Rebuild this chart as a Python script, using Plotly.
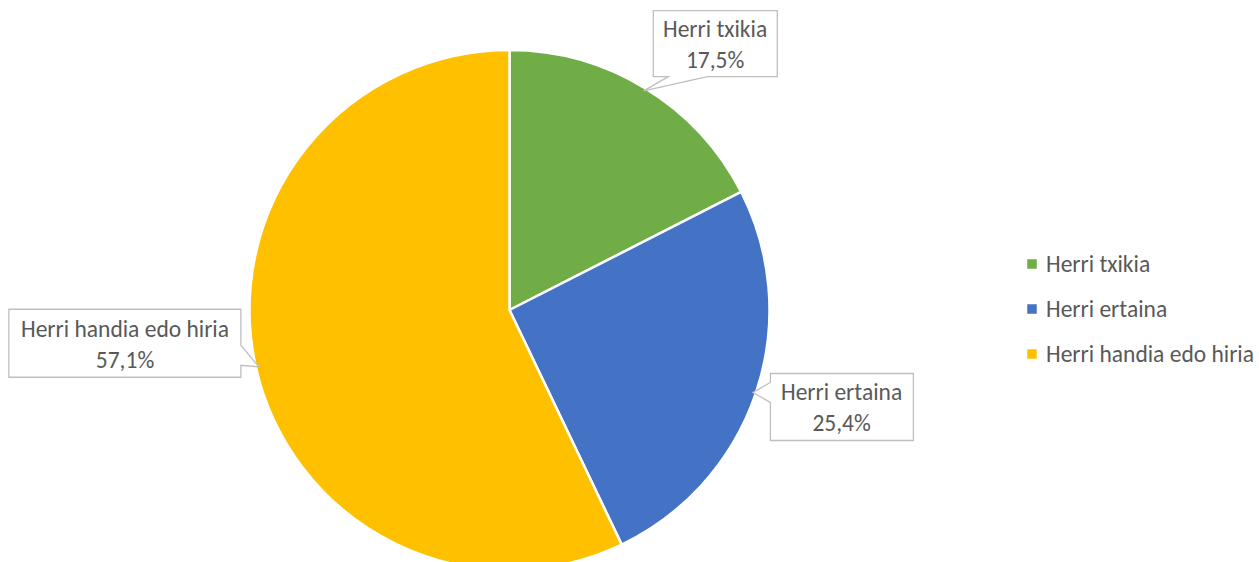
import math
import plotly.graph_objects as go

# Settlement size shares (%)
categories = ["Herri txikia", "Herri ertaina", "Herri handia edo hiria"]
shares = [17.5, 25.4, 57.1]
colors = ["#70AD47", "#4472C4", "#FFC000"]

W, H = 1259, 570          # figure runs a few pixels below the visible page
FONT = "Calibri, Carlito, Lato, sans-serif"
FONT_SIZE = 23.5
TEXT_COLOR = "#595959"
BORDER = "#BFBFBF"

# pie placement (pixels)
CX, TOP = 509.5, 50
PIE_H = H - TOP
R = PIE_H / 2
CY = TOP + R


def px(x):
    return x / W


def py(y):
    return 1 - y / H


fig = go.Figure(
    go.Pie(
        labels=categories,
        values=shares,
        marker=dict(colors=colors, line=dict(color="white", width=2.5)),
        sort=False,
        direction="clockwise",
        rotation=0,
        textinfo="none",
        hoverinfo="label+percent",
        showlegend=False,
        domain=dict(x=[px(CX - R), px(CX + R)], y=[0, py(TOP)]),
    )
)

# callout boxes: size, placement relative to the slice anchor, wedge edge and base span
callout_style = [
    dict(w=124, h=66, dx0=9.5, dy1=-14.2, edge="bottom", base=(15, 54)),
    dict(w=143, h=67, dx0=17.5, dy0=-19.0, edge="left", base=(9, 29)),
    dict(w=232, h=68, dx1=-18.0, dy1=10.4, edge="right", base=(36, 56)),
]

shapes = []
annotations = []
total = sum(shares)
start = 0.0
for name, val, st in zip(categories, shares, callout_style):
    mid = (start + val / 2) / total * 2 * math.pi
    start += val
    tx = CX + (R - 3) * math.sin(mid)
    ty = CY - (R - 3) * math.cos(mid)

    w, h = st["w"], st["h"]
    x0 = tx + st["dx0"] if "dx0" in st else tx + st["dx1"] - w
    y0 = ty + st["dy0"] if "dy0" in st else ty + st["dy1"] - h
    x1, y1 = x0 + w, y0 + h
    a, b = st["base"]

    if st["edge"] == "bottom":
        pts = [(x0, y0), (x1, y0), (x1, y1), (x0 + b, y1), (tx, ty), (x0 + a, y1), (x0, y1)]
    elif st["edge"] == "left":
        pts = [(x0, y0), (x1, y0), (x1, y1), (x0, y1), (x0, y0 + b), (tx, ty), (x0, y0 + a)]
    else:
        pts = [(x0, y0), (x1, y0), (x1, y0 + a), (tx, ty), (x1, y0 + b), (x1, y1), (x0, y1)]

    path = "M " + " L ".join(f"{px(x):.5f},{py(y):.5f}" for x, y in pts) + " Z"
    shapes.append(dict(type="path", xref="paper", yref="paper", path=path,
                       fillcolor="white", line=dict(color=BORDER, width=1.3)))

    label = f"{name}<br>{val:.1f}%".replace(".", ",")
    annotations.append(dict(x=px((x0 + x1) / 2), y=py((y0 + y1) / 2 + 1), xref="paper", yref="paper",
                            text=label, showarrow=False, xanchor="center", yanchor="middle",
                            font=dict(family=FONT, size=FONT_SIZE, color=TEXT_COLOR)))

# legend on the right
LEG_X, LEG_Y, LEG_STEP, SQ = 1032, 264, 45, 9.5
for i, (name, col) in enumerate(zip(categories, colors)):
    yc = LEG_Y + i * LEG_STEP
    shapes.append(dict(type="rect", xref="paper", yref="paper",
                       x0=px(LEG_X - SQ / 2), x1=px(LEG_X + SQ / 2),
                       y0=py(yc + SQ / 2), y1=py(yc - SQ / 2),
                       fillcolor=col, line=dict(width=0)))
    annotations.append(dict(x=px(LEG_X + 12), y=py(yc), xref="paper", yref="paper",
                            text=name, showarrow=False, xanchor="left", yanchor="middle",
                            font=dict(family=FONT, size=FONT_SIZE, color=TEXT_COLOR)))

fig.update_layout(
    width=W, height=H,
    margin=dict(l=0, r=0, t=0, b=0),
    paper_bgcolor="white", plot_bgcolor="white",
    shapes=shapes, annotations=annotations,
    showlegend=False,
)

# the page itself stays scroll-free; the pie's lower rim is cut by the window edge
fig.write_html(
    "out.html",
    post_script="document.documentElement.style.overflow='hidden';"
                "document.body.style.overflow='hidden';document.body.style.margin='0';",
)
